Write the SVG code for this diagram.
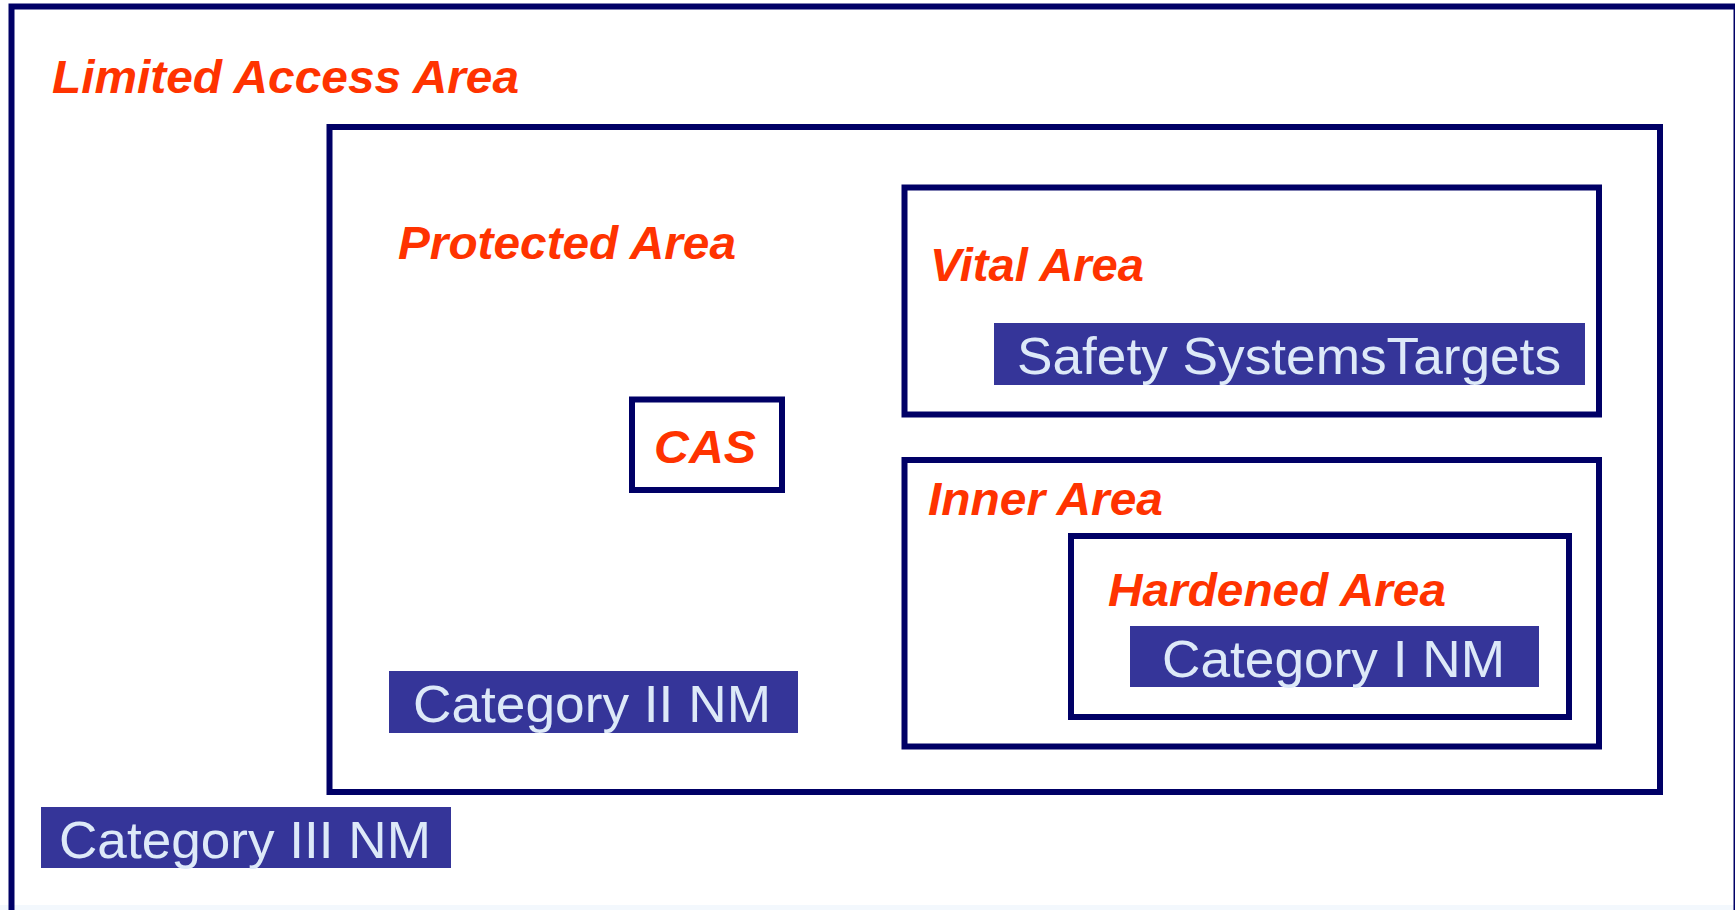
<svg xmlns="http://www.w3.org/2000/svg" width="1735" height="910" viewBox="0 0 1735 910">
<style>
.box{fill:none;stroke:#000066;stroke-width:6}
.lbl{font-family:"Liberation Sans",Arial,sans-serif;font-weight:bold;font-style:italic;font-size:47px;fill:#ff3300}
.tag{fill:#353599}
.tagt{font-family:"Liberation Sans",Arial,sans-serif;font-size:52px;fill:#dde9f8}
</style>
<rect x="0" y="0" width="1735" height="910" fill="#ffffff"/>
<rect x="0" y="905" width="1735" height="5" fill="#f3f8fd"/>
<g id="limited-access-area">
<rect class="box" x="11.5" y="6.5" width="1725" height="930"/>
<text class="lbl" x="52" y="93" textLength="467" lengthAdjust="spacingAndGlyphs">Limited Access Area</text>
</g>
<g id="protected-area">
<rect class="box" x="329.5" y="127" width="1330.5" height="665"/>
<text class="lbl" x="398" y="259" textLength="338" lengthAdjust="spacingAndGlyphs">Protected Area</text>
</g>
<g id="cas">
<rect class="box" x="632" y="399.5" width="150" height="90.5"/>
<text class="lbl" x="654" y="463" textLength="102" lengthAdjust="spacingAndGlyphs">CAS</text>
</g>
<g id="vital-area">
<rect class="box" x="904.5" y="187.5" width="694.5" height="227"/>
<text class="lbl" x="930" y="281" textLength="214" lengthAdjust="spacingAndGlyphs">Vital Area</text>
</g>
<g id="safety-systems-targets">
<rect class="tag" x="994" y="323" width="591" height="62"/>
<text class="tagt" x="1017" y="374" textLength="544" lengthAdjust="spacingAndGlyphs">Safety SystemsTargets</text>
</g>
<g id="inner-area">
<rect class="box" x="904.5" y="460" width="694.5" height="286.5"/>
<text class="lbl" x="928" y="515" textLength="235" lengthAdjust="spacingAndGlyphs">Inner Area</text>
</g>
<g id="hardened-area">
<rect class="box" x="1071" y="536" width="498" height="181"/>
<text class="lbl" x="1108" y="606" textLength="338" lengthAdjust="spacingAndGlyphs">Hardened Area</text>
</g>
<g id="category-i-nm">
<rect class="tag" x="1130" y="626" width="409" height="61"/>
<text class="tagt" x="1162" y="677" textLength="343" lengthAdjust="spacingAndGlyphs">Category I NM</text>
</g>
<g id="category-ii-nm">
<rect class="tag" x="389" y="671" width="409" height="62"/>
<text class="tagt" x="413" y="722" textLength="358" lengthAdjust="spacingAndGlyphs">Category II NM</text>
</g>
<g id="category-iii-nm">
<rect class="tag" x="41" y="807" width="410" height="61"/>
<text class="tagt" x="59" y="858" textLength="372" lengthAdjust="spacingAndGlyphs">Category III NM</text>
</g>
</svg>
